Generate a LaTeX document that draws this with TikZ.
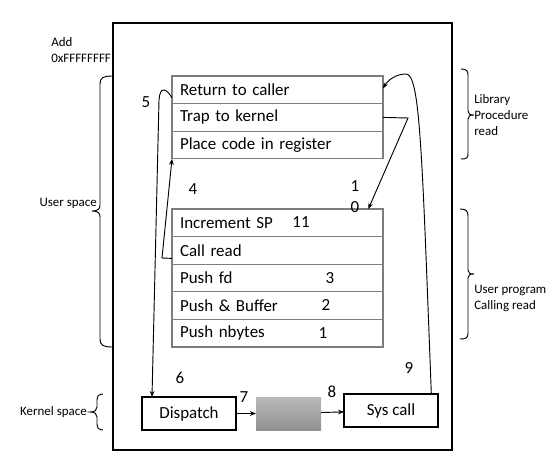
\documentclass[tikz,border=0pt]{standalone}
\usepackage{fontspec}
\setmainfont{Carlito}
\usetikzlibrary{arrows.meta}
\definecolor{rowgray}{RGB}{125,125,125}
\definecolor{gtop}{RGB}{185,185,185}
\definecolor{gbot}{RGB}{145,145,145}
\newcommand\mainsz{\fontsize{12.7}{15}\selectfont}
\newcommand\smallsz{\fontsize{9.7}{12}\selectfont}
\begin{document}
\begin{tikzpicture}[x=0.75pt,y=-0.75pt,
  row/.style={draw=rowgray,line width=0.9pt,fill=white,anchor=north west,inner xsep=6pt,inner ysep=0pt,outer sep=0pt,text width=146.25pt,minimum height=20.7pt,align=left,font=\mainsz},
  kbox/.style={draw=black,line width=0.8pt,anchor=north west,inner sep=0pt,outer sep=0pt,minimum width=70.5pt,minimum height=24.75pt,font=\mainsz},
  num/.style={inner sep=0pt,font=\mainsz},
  lab/.style={inner sep=0pt,font=\smallsz,align=left},
  arr/.style={draw=black,line width=0.7pt,-{Stealth[length=4.5pt,width=3.5pt]}},
  brace/.style={draw=black,line width=0.7pt}]
\useasboundingbox (0,0) rectangle (549,473);
% frame
\node[draw=black,line width=0.8pt,anchor=north west,inner sep=0pt,outer sep=0pt,minimum width=254.25pt,minimum height=320.25pt] (frame) at (113,23) {};
% library procedure stack
\node[row] (r1) at (172,76) {Return to caller};
\node[row] (r2) at (r1.south west) {Trap to kernel};
\node[row] (r3) at (r2.south west) {Place code in register};
% user program stack
\node[row] (p1) at (172,209) {Increment SP};
\node[row] (p2) at (p1.south west) {Call read};
\node[row] (p3) at (p2.south west) {Push fd};
\node[row] (p4) at (p3.south west) {Push \& Buffer};
\node[row] (p5) at (p4.south west) {Push nbytes};
% kernel boxes
\node[kbox] (dispatch) at (142,397) {Dispatch};
\node[anchor=north west,inner sep=0pt,outer sep=0pt,minimum width=48.75pt,minimum height=24.75pt,top color=gtop,bottom color=gbot] (grey) at (256,397) {};
\node[kbox] (syscall) at (344,394) {Sys call};
% numbers
\node[num] (n5) at (146,102) {5};
\node[num] (n4) at (193,189) {4};
\node[num] (n10a) at (355,186) {1};
\node[num] (n10b) at (355,207) {0};
\node[num] (n11) at (301,222) {11};
\node[num] (n3) at (330,278) {3};
\node[num] (n2) at (326,305) {2};
\node[num] (n1) at (323,333) {1};
\node[num] (n6) at (180,378) {6};
\node[num] (n7) at (244,397) {7};
\node[num] (n8) at (332,392) {8};
\node[num] (n9) at (409,368) {9};
% labels
\node[lab,anchor=west] (add) at (51,50) {Add\\0xFFFFFFFF};
\node[lab,anchor=east] (us) at (97,203) {User space};
\node[lab,anchor=east] (ks) at (87,412) {Kernel space};
\node[lab,anchor=west] (lib) at (474,115) {Library\\Procedure\\read};
\node[lab,anchor=west] (upr) at (474,298) {User program\\Calling read};
% braces
\draw[brace] (112,76) .. controls (103,76) and (100,78) .. (100,84) -- (100,205) .. controls (100,209) and (98,211) .. (92,211) .. controls (98,211) and (100,213) .. (100,217) -- (100,339) .. controls (100,345) and (103,347) .. (112,347);
\draw[brace] (103,394) .. controls (99,394) and (97,396) .. (97,400) -- (97,407) .. controls (97,410) and (95,412) .. (90,412) .. controls (95,412) and (97,414) .. (97,417) -- (97,424) .. controls (97,428) and (99,430) .. (103,430);
\draw[brace] (461,69) .. controls (467,69) and (468,71) .. (468,76) -- (468,111) .. controls (468,114) and (470,115) .. (474,115) .. controls (470,115) and (468,116) .. (468,119) -- (468,153) .. controls (468,158) and (467,159) .. (461,159);
\draw[brace] (460,209) .. controls (466,209) and (468,211) .. (468,216) -- (468,270) .. controls (468,273) and (470,274) .. (474,274) .. controls (470,274) and (468,275) .. (468,278) -- (468,333) .. controls (468,338) and (466,339) .. (460,339);
% connectors
\draw[arr] ([yshift=-6pt]r1.west) .. controls (166,88) and (160,86) .. (159,100) -- ([xshift=7.5pt]dispatch.north west);
\draw[arr] ([yshift=-6pt]p2.west) -- (162,258) -- (r3.south west);
\draw[arr] (r2.east) -- (408,118) -- ([xshift=-11pt]p1.north east);
\draw[arr] ([xshift=-5pt]syscall.north east) .. controls (422,150) and (420,74) .. (406,74) .. controls (396,74) and (388,80) .. ([yshift=1pt]r1.east);
\draw[arr] (dispatch) -- (grey);
\draw[arr] (grey) -- (syscall);
\end{tikzpicture}
\end{document}
